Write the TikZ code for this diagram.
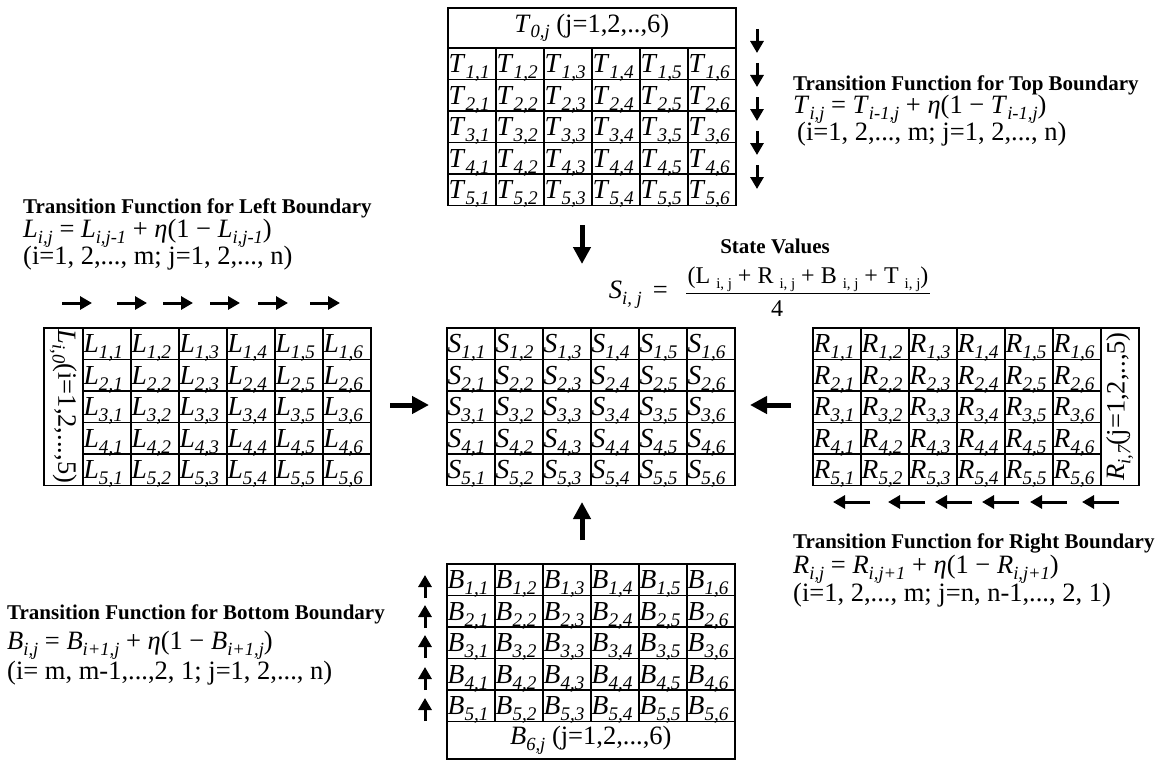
\documentclass[tikz,border=0pt]{standalone}
\usepackage{fontspec}
\setmainfont{Liberation Serif}
\usepackage{graphicx}
\usetikzlibrary{arrows.meta}
\newcommand{\eqfont}{\fontsize{26.5}{30}\selectfont}
\newcommand{\ttlfont}{\fontsize{21}{24}\selectfont\bfseries}
% italic symbol with lowered italic subscript
\newcommand{\ixs}[2]{\textit{#1}\raisebox{-0.22em}{\scalebox{0.7}{\textit{#2}}}}
% upright subscript
\newcommand{\usub}[1]{\ \raisebox{-0.2em}{\scalebox{0.62}{#1}}}
% 5x6 grid of cells: letter, name, left x, top y
\newcommand{\gridbox}[4]{%
  \foreach \i in {1,...,5}
    \foreach \j in {1,...,6} {
      \node[cell] (#2-\i-\j) at ({#3+(\j-1)*48},{#4+(\i-1)*31.5}) {};
      \node[celltext] at (#2-\i-\j.south west) {\ixs{#1}{\i,\j}};
    }}
\tikzset{
  cell/.style={draw, line width=1.6pt, minimum width=48pt, minimum height=31.5pt,
    inner sep=0pt, anchor=north west},
  celltext/.style={anchor=base west, inner sep=0pt, xshift=1.5pt, yshift=7.5pt,
    font=\fontsize{27.5}{27.5}\selectfont},
  smallarrow/.style={line width=3pt, -{Triangle[length=12pt,width=13pt]}},
  bigarrow/.style={line width=5pt, -{Triangle[length=17pt,width=17pt]}},
  ttl/.style={anchor=west, inner sep=0pt, font=\ttlfont},
  eqn/.style={anchor=west, inner sep=0pt, font=\eqfont}
}

\begin{document}
\begin{tikzpicture}[x=1pt,y=-1pt]
\useasboundingbox (0,0) rectangle (1167,760);

% the five grids
\gridbox{T}{top}{447}{47}
\gridbox{L}{lft}{82}{327}
\gridbox{S}{st}{446}{327}
\gridbox{R}{rgt}{812}{327}
\gridbox{B}{bot}{446}{563}

% boundary rows and columns
\node[cell, minimum width=288pt, minimum height=40pt, font=\eqfont] (tophead) at (447,7) {\ixs{T}{0,j} (j=1,2,..,6)};
\node[cell, minimum width=288pt, minimum height=37.5pt, font=\eqfont] (bothead) at (446,720.5) {\ixs{B}{6,j} (j=1,2,...,6)};
\node[cell, minimum width=39pt, minimum height=157.5pt] (lfthead) at (43,327) {};
\node[rotate=-90, font=\eqfont] at (lfthead.center) {\ixs{L}{i,0}(i=1,2,...,5)};
\node[cell, minimum width=38pt, minimum height=157.5pt] (rgthead) at (1100,327) {};
\node[rotate=90, font=\eqfont] at (rgthead.center) {\ixs{R}{i,7}(j=1,2,..,5)};

% small arrows along the boundaries
\foreach \k/\y in {1/29,2/63,3/97,4/131,5/165} {
  \coordinate (ta\k) at (757,\y);
  \coordinate (tb\k) at (757,\y+24);
  \draw[smallarrow] (ta\k) -- (tb\k);
}
\foreach \k/\x in {1/62,2/117,3/163,4/210,5/258,6/310} {
  \coordinate (la\k) at (\x,303);
  \coordinate (lb\k) at (\x+30,303);
  \draw[smallarrow] (la\k) -- (lb\k);
}
\foreach \k/\x in {1/833,2/888,3/935,4/982,5/1030,6/1082} {
  \coordinate (ra\k) at (\x+37,502);
  \coordinate (rb\k) at (\x,502);
  \draw[smallarrow] (ra\k) -- (rb\k);
}
\foreach \k/\y in {1/575,2/605,3/635,4/667,5/698} {
  \coordinate (ba\k) at (425,\y+23);
  \coordinate (bb\k) at (425,\y);
  \draw[smallarrow] (ba\k) -- (bb\k);
}

% big arrows into the state grid
\coordinate (downa) at (582,225);
\coordinate (downb) at (582,264);
\coordinate (righta) at (390,405);
\coordinate (rightb) at (429,405);
\coordinate (lefta) at (791,405);
\coordinate (leftb) at (750,405);
\coordinate (upa) at (582,540);
\coordinate (upb) at (582,502);
\draw[bigarrow] (downa) -- (downb);
\draw[bigarrow] (righta) -- (rightb);
\draw[bigarrow] (lefta) -- (leftb);
\draw[bigarrow] (upa) -- (upb);

% transition functions
\node[ttl] (toptitle) at (793,85) {Transition Function for Top Boundary};
\node[eqn] (topeq) at (793,109) {\ixs{T}{i,j} = \ixs{T}{i-1,j} + \textit{η}(1 − \ixs{T}{i-1,j})};
\node[eqn] (toprange) at (797,134) {(i=1, 2,..., m; j=1, 2,..., n)};

\node[ttl] (lfttitle) at (23,208) {Transition Function for Left Boundary};
\node[eqn] (lfteq) at (23,233) {\ixs{L}{i,j} = \ixs{L}{i,j-1} + \textit{η}(1 − \ixs{L}{i,j-1})};
\node[eqn] (lftrange) at (23,258) {(i=1, 2,..., m; j=1, 2,..., n)};

\node[ttl] (rgttitle) at (793,543) {Transition Function for Right Boundary};
\node[eqn] (rgteq) at (793,569) {\ixs{R}{i,j} = \ixs{R}{i,j+1} + \textit{η}(1 − \ixs{R}{i,j+1})};
\node[eqn] (rgtrange) at (793,595) {(i=1, 2,..., m; j=n, n-1,..., 2, 1)};

\node[ttl] (bottitle) at (7,614) {Transition Function for Bottom Boundary};
\node[eqn] (boteq) at (7,645) {\ixs{B}{i,j} = \ixs{B}{i+1,j} + \textit{η}(1 − \ixs{B}{i+1,j})};
\node[eqn] (botrange) at (7,673) {(i= m, m-1,...,2, 1; j=1, 2,..., n)};

% state values
\node[font=\ttlfont] (sttitle) at (775,246) {State Values};
\node[anchor=east, inner sep=0pt, font=\eqfont] (steq) at (668,295) {\ixs{S}{i, j} \,=};
\node[anchor=south, inner sep=1pt, font=\fontsize{24}{26}\selectfont] (stnum) at (808,293) {(L\usub{i, j} + R\usub{i, j} + B\usub{i, j} + T\usub{i, j})};
\draw[line width=1pt] (stnum.south west) -- (stnum.south east);
\node[font=\fontsize{24}{26}\selectfont, inner sep=0pt] (stden) at (777,309) {4};
\end{tikzpicture}
\end{document}
